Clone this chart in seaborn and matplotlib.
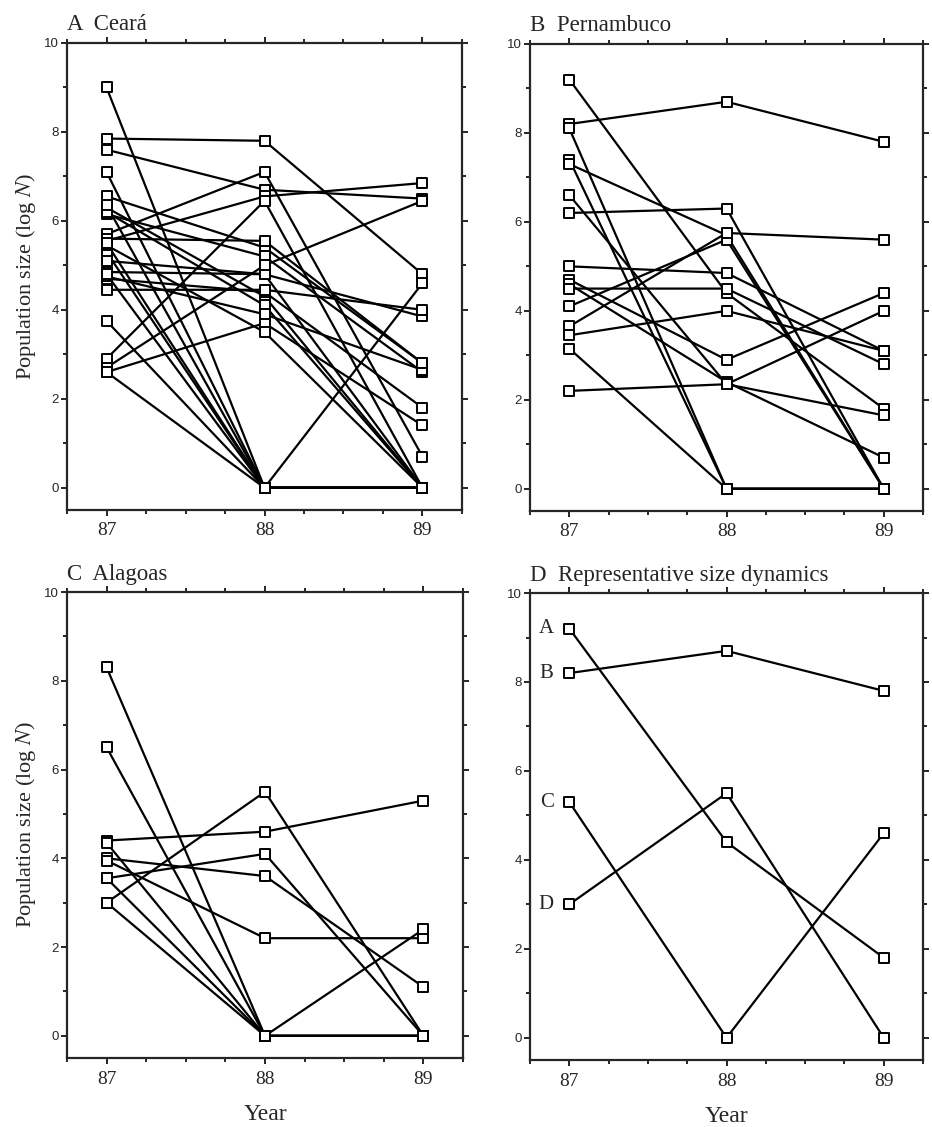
import matplotlib
matplotlib.use("Agg")
import matplotlib.pyplot as plt
import seaborn as sns
import pandas as pd
from matplotlib.ticker import MultipleLocator

# --- data (log N per site) ---
years = [87, 88, 89]

ceara_87 = [9.0, 7.85, 7.6, 7.1, 6.55, 6.3, 6.15, 5.7, 5.55, 5.3, 5.1, 4.85,
            4.7, 4.45, 3.75, 2.9, 2.7, 2.6, 2.6, 5.45, 6.2, 4.75, 5.6,
            6.35, 5.5, 4.8]
ceara_88 = [0.0, 7.8, 6.7, 0.0, 5.4, 4.3, 5.2, 7.1, 6.55, 0.0, 4.8, 4.8,
            4.4, 4.45, 0.0, 6.45, 5.0, 3.7, 0.0, 3.5, 4.1, 3.9, 5.55,
            0.0, 0.0, 0.0]
ceara_89 = [0.0, 4.8, 6.5, 0.0, 2.8, 0.0, 2.6, 0.7, 6.85, 4.6, 0.0, 3.85,
            1.8, 4.0, 0.0, 0.0, 6.45, 1.4, 0.0, 0.0, 0.0, 2.65, 2.8,
            0.0, 0.0, 0.0]

pern_87 = [9.2, 8.2, 8.1, 7.4, 7.3, 6.6, 6.2, 5.0, 4.7, 4.6, 4.5, 4.1, 3.65, 3.45, 3.15, 2.2]
pern_88 = [4.4, 8.7, 0.0, 0.0, 5.7, 2.35, 6.3, 4.85, 2.9, 2.4, 4.5, 5.6, 5.75, 4.0, 0.0, 2.35]
pern_89 = [1.8, 7.8, 0.0, 0.0, 0.0, 1.65, 0.0, 3.1, 4.4, 0.7, 2.8, 0.0, 5.6, 3.1, 0.0, 4.0]

alag_87 = [8.3, 6.5, 4.4, 4.35, 4.0, 3.95, 3.55, 3.55, 3.0, 3.0]
alag_88 = [0.0, 0.0, 4.6, 0.0, 3.6, 2.2, 4.1, 0.0, 5.5, 0.0]
alag_89 = [0.0, 0.0, 5.3, 0.0, 1.1, 2.2, 0.0, 2.4, 0.0, 0.0]

rep_labels = ["A", "B", "C", "D"]
rep_87 = [9.2, 8.2, 5.3, 3.0]
rep_88 = [4.4, 8.7, 0.0, 5.5]
rep_89 = [1.8, 7.8, 4.6, 0.0]

panel_titles = ["A  Ceará", "B  Pernambuco", "C  Alagoas", "D  Representative size dynamics"]


def to_long(v87, v88, v89):
    rows = []
    for i, vals in enumerate(zip(v87, v88, v89)):
        for yr, v in zip(years, vals):
            rows.append({"site": i, "year": yr, "size": v})
    return pd.DataFrame(rows)


sns.set_style("ticks")
plt.rcParams["font.family"] = ["Liberation Serif", "DejaVu Serif"]
plt.rcParams["mathtext.fontset"] = "stix"
plt.rcParams["axes.linewidth"] = 1.6

fig = plt.figure(figsize=(9.32, 11.27), dpi=100)
rects = [
    [0.0719, 0.5475, 0.4238, 0.4144],
    [0.5687, 0.5466, 0.4217, 0.4144],
    [0.0719, 0.0612, 0.4249, 0.4135],
    [0.5687, 0.0594, 0.4217, 0.4144],
]
frames = [
    to_long(ceara_87, ceara_88, ceara_89),
    to_long(pern_87, pern_88, pern_89),
    to_long(alag_87, alag_88, alag_89),
    to_long(rep_87, rep_88, rep_89),
]

for k, (rect, df, title) in enumerate(zip(rects, frames, panel_titles)):
    ax = fig.add_axes(rect)
    # one black polyline per site, open squares on top
    sns.lineplot(data=df, x="year", y="size", units="site", estimator=None,
                 color="black", linewidth=1.6, ax=ax, legend=False)
    sns.scatterplot(data=df, x="year", y="size", marker="s", s=45,
                    color="white", edgecolor="black", linewidth=1.4,
                    ax=ax, legend=False, zorder=3)

    ax.set_xlim(86.75, 89.25)
    ax.set_ylim(-0.5, 10)
    ax.set_xticks(years)
    ax.set_xticklabels([str(y) for y in years])
    ax.set_yticks(range(0, 11, 2))
    ax.xaxis.set_minor_locator(MultipleLocator(0.25))
    ax.yaxis.set_minor_locator(MultipleLocator(1))
    ax.tick_params(which="both", direction="out", top=True, right=True,
                   labeltop=False, labelright=False, width=1.2, color="black")
    ax.tick_params(which="major", length=4)
    ax.tick_params(which="minor", length=3)
    ax.tick_params(axis="x", labelsize=14, pad=5)
    ax.tick_params(axis="y", labelsize=9.5, pad=2, labelfontfamily="Liberation Sans")

    ax.set_title(title, loc="left", fontsize=16.5, pad=9)

    if k in (0, 2):
        ax.set_ylabel("Population size (log $\\mathit{N}$)", fontsize=16, labelpad=4)
    else:
        ax.set_ylabel("")
    if k in (2, 3):
        ax.set_xlabel("Year", fontsize=17, labelpad=12)
    else:
        ax.set_xlabel("")

    if k == 3:
        for lab, v in zip(rep_labels, rep_87):
            ax.text(86.9, v, lab, ha="right", va="center", fontsize=15)

fig.savefig("out.png", dpi=100)
